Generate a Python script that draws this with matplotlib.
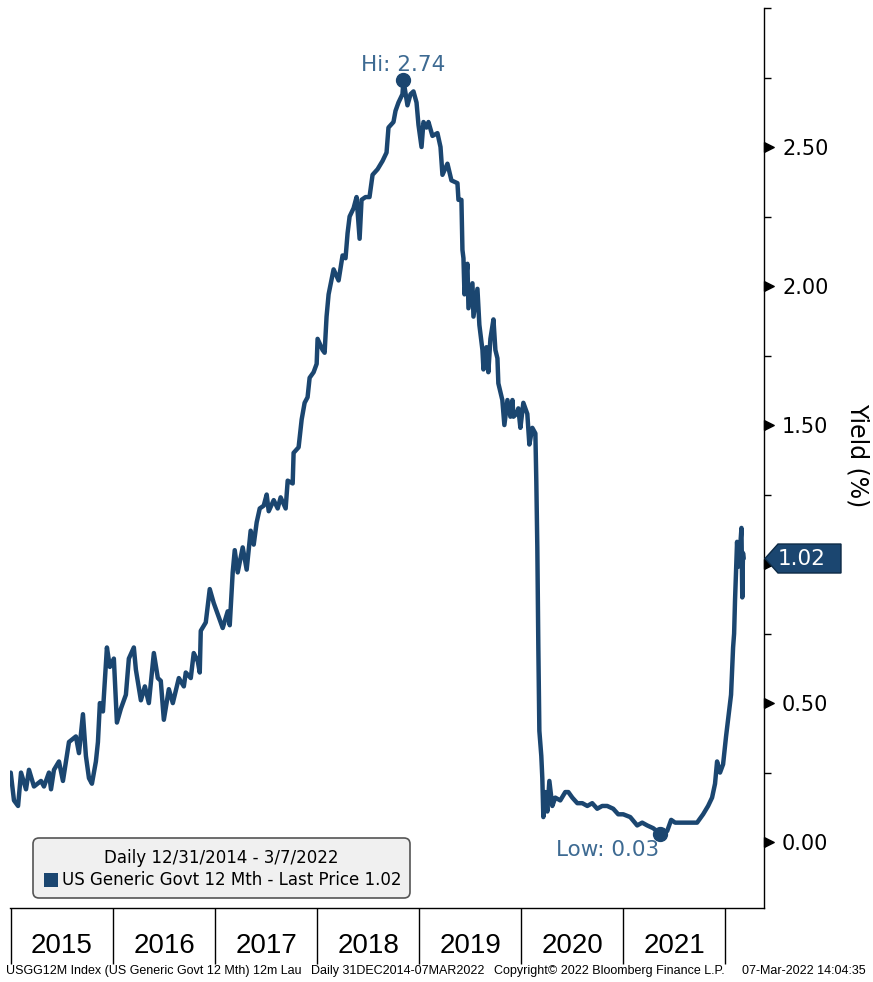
import matplotlib
matplotlib.use('Agg')
import matplotlib.pyplot as plt
from matplotlib import font_manager as fm
from matplotlib.patches import Polygon, FancyBboxPatch, Rectangle
from matplotlib.transforms import IdentityTransform, blended_transform_factory

# ---------------- data (decimal years, yield %) ----------------
dates = [
    2014.997, 2015.010, 2015.029, 2015.069, 2015.098, 2015.147, 2015.176, 2015.225, 2015.294, 2015.323,
    2015.372, 2015.392, 2015.421, 2015.470, 2015.509, 2015.538, 2015.568, 2015.636, 2015.666, 2015.705,
    2015.734, 2015.764, 2015.793, 2015.832, 2015.852, 2015.871, 2015.901, 2015.920, 2015.940, 2015.969,
    2016.008, 2016.038, 2016.077, 2016.126, 2016.155, 2016.204, 2016.224, 2016.273, 2016.312, 2016.351,
    2016.400, 2016.439, 2016.468, 2016.498, 2016.547, 2016.586, 2016.645, 2016.694, 2016.713, 2016.762,
    2016.791, 2016.831, 2016.850, 2016.860, 2016.909, 2016.948, 2016.987, 2017.026, 2017.075, 2017.124,
    2017.144, 2017.173, 2017.193, 2017.222, 2017.271, 2017.310, 2017.349, 2017.379, 2017.408, 2017.438,
    2017.477, 2017.506, 2017.526, 2017.575, 2017.614, 2017.643, 2017.692, 2017.712, 2017.761, 2017.770,
    2017.819, 2017.849, 2017.878, 2017.907, 2017.927, 2017.966, 2017.996, 2018.005, 2018.054, 2018.074,
    2018.093, 2018.113, 2018.162, 2018.211, 2018.250, 2018.279, 2018.299, 2018.319, 2018.358, 2018.387,
    2018.417, 2018.436, 2018.475, 2018.514, 2018.544, 2018.593, 2018.642, 2018.681, 2018.700, 2018.749,
    2018.769, 2018.798, 2018.837, 2018.847, 2018.886, 2018.916, 2018.945, 2018.975, 2018.994, 2019.024,
    2019.043, 2019.073, 2019.092, 2019.131, 2019.180, 2019.210, 2019.229, 2019.278, 2019.317, 2019.376,
    2019.386, 2019.415, 2019.425, 2019.435, 2019.445, 2019.474, 2019.484, 2019.523, 2019.533, 2019.572,
    2019.591, 2019.621, 2019.631, 2019.660, 2019.679, 2019.699, 2019.729, 2019.748, 2019.768, 2019.777,
    2019.816, 2019.836, 2019.866, 2019.895, 2019.915, 2019.925, 2019.954, 2019.973, 2019.993, 2020.022,
    2020.061, 2020.081, 2020.110, 2020.140, 2020.149, 2020.159, 2020.169, 2020.179, 2020.198, 2020.208,
    2020.218, 2020.237, 2020.257, 2020.277, 2020.306, 2020.335, 2020.384, 2020.433, 2020.463, 2020.502,
    2020.551, 2020.600, 2020.649, 2020.697, 2020.746, 2020.795, 2020.844, 2020.903, 2020.952, 2021.001,
    2021.070, 2021.138, 2021.187, 2021.236, 2021.295, 2021.363, 2021.432, 2021.471, 2021.510, 2021.588,
    2021.657, 2021.725, 2021.784, 2021.833, 2021.872, 2021.901, 2021.921, 2021.950, 2021.980, 2022.009,
    2022.029, 2022.058, 2022.078, 2022.088, 2022.097, 2022.117, 2022.127, 2022.147, 2022.160, 2022.168,
    2022.175, 2022.181,
]
yields = [
    0.25, 0.21, 0.15, 0.13, 0.25, 0.19, 0.26, 0.20, 0.22, 0.20,
    0.25, 0.19, 0.26, 0.29, 0.22, 0.29, 0.36, 0.38, 0.32, 0.46,
    0.31, 0.23, 0.21, 0.29, 0.36, 0.50, 0.47, 0.58, 0.70, 0.63,
    0.66, 0.43, 0.48, 0.53, 0.66, 0.70, 0.62, 0.51, 0.56, 0.50,
    0.68, 0.59, 0.58, 0.44, 0.55, 0.50, 0.59, 0.56, 0.61, 0.59,
    0.68, 0.65, 0.61, 0.76, 0.79, 0.91, 0.86, 0.82, 0.77, 0.83,
    0.78, 0.97, 1.05, 0.97, 1.06, 0.98, 1.12, 1.07, 1.15, 1.20,
    1.21, 1.25, 1.19, 1.23, 1.20, 1.24, 1.20, 1.30, 1.29, 1.40,
    1.42, 1.52, 1.58, 1.60, 1.67, 1.69, 1.72, 1.81, 1.77, 1.76,
    1.89, 1.97, 2.06, 2.02, 2.11, 2.10, 2.19, 2.25, 2.28, 2.32,
    2.17, 2.31, 2.32, 2.32, 2.40, 2.42, 2.45, 2.48, 2.57, 2.59,
    2.63, 2.66, 2.69, 2.74, 2.65, 2.69, 2.70, 2.66, 2.58, 2.50,
    2.59, 2.57, 2.59, 2.54, 2.55, 2.50, 2.40, 2.44, 2.38, 2.37,
    2.31, 2.31, 2.13, 2.10, 1.97, 2.08, 1.92, 2.01, 1.89, 1.99,
    1.86, 1.77, 1.70, 1.78, 1.69, 1.81, 1.88, 1.77, 1.74, 1.65,
    1.59, 1.50, 1.59, 1.53, 1.59, 1.53, 1.54, 1.56, 1.49, 1.58,
    1.54, 1.43, 1.49, 1.47, 1.30, 1.06, 0.70, 0.40, 0.31, 0.23,
    0.09, 0.18, 0.11, 0.22, 0.13, 0.16, 0.15, 0.18, 0.18, 0.16,
    0.14, 0.14, 0.13, 0.14, 0.12, 0.13, 0.13, 0.12, 0.10, 0.10,
    0.09, 0.06, 0.07, 0.06, 0.05, 0.03, 0.04, 0.08, 0.07, 0.07,
    0.07, 0.07, 0.10, 0.13, 0.16, 0.21, 0.29, 0.25, 0.28, 0.38,
    0.44, 0.53, 0.70, 0.75, 0.87, 1.08, 0.99, 1.06, 1.13, 0.88,
    1.04, 1.02,
]
year_edges = [2015, 2016, 2017, 2018, 2019, 2020, 2021, 2022]
year_labels = ['2015', '2016', '2017', '2018', '2019', '2020', '2021']
ytick_vals = [0.0, 0.5, 1.0, 1.5, 2.0, 2.5]
ytick_labels = ['0.00', '0.50', '', '1.50', '2.00', '2.50']   # 1.00 hidden by last-price tag
yminor_vals = [0.25, 0.75, 1.25, 1.75, 2.25, 2.75, 3.0]
hi_date, hi_val, hi_text = 2018.847, 2.74, 'Hi: 2.74'
low_date, low_val, low_text = 2021.363, 0.03, 'Low: 0.03'
last_val, last_text = 1.02, '1.02'
legend_title = 'Daily 12/31/2014 - 3/7/2022'
legend_label = 'US Generic Govt 12 Mth - Last Price 1.02'
footer_texts = ['USGG12M Index (US Generic Govt 12 Mth) 12m Lau',
                'Daily 31DEC2014-07MAR2022',
                'Copyright\u00a9 2022 Bloomberg Finance L.P.',
                '07-Mar-2022 14:04:35']
footer_x = [6, 311, 494, 742]

# ---------------- style ----------------
LINE = '#1b4670'
ANNOT = '#3d6a92'
names = {f.name for f in fm.fontManager.ttflist}
if 'Liberation Sans Narrow' in names:
    NARROW, YEAR_FS, FOOT_FS = 'Liberation Sans Narrow', 20.5, 10
else:
    NARROW, YEAR_FS, FOOT_FS = 'Liberation Sans', 20, 9.0
plt.rcParams['font.family'] = ['DejaVu Sans']

W, H = 873, 982
fig = plt.figure(figsize=(W / 100, H / 100), dpi=100)
ax = fig.add_axes([10 / W, 1 - 908 / H, 754 / W, 900 / H])

ax.plot(dates, yields, color=LINE, lw=3.2, solid_joinstyle='round', solid_capstyle='round')
ax.plot([hi_date], [hi_val], 'o', ms=10, color=LINE)
ax.plot([low_date], [low_val], 'o', ms=10, color=LINE)
ax.text(hi_date, hi_val + 0.055, hi_text, ha='center', va='center', fontsize=15.5, color=ANNOT)
ax.text(2020.844, low_val - 0.06, low_text, ha='center', va='center', fontsize=15.5, color=ANNOT)

ax.set_xlim(2014.99, 2022.381)
ax.set_ylim(-0.237, 3.0)

for s in ['left', 'top']:
    ax.spines[s].set_visible(False)
for s in ['right', 'bottom']:
    ax.spines[s].set_linewidth(1.0)
    ax.spines[s].set_color('black')

# x axis: long separators at year edges, labels centred in each year
ax.set_xticks(year_edges)
ax.set_xticklabels([])
ax.set_xticks([y + 0.5 for y in year_edges[:-1]], minor=True)
ax.set_xticklabels(year_labels, minor=True, fontsize=YEAR_FS, family=NARROW)
ax.tick_params(axis='x', which='major', length=40, width=1, direction='out', color='black')
ax.tick_params(axis='x', which='minor', length=0, pad=18)

# y axis on the right
ax.yaxis.tick_right()
ax.set_yticks(ytick_vals)
ax.set_yticklabels(ytick_labels, fontsize=15)
ax.set_yticks(yminor_vals, minor=True)
ax.tick_params(axis='y', which='major', length=0, pad=13)
ax.tick_params(axis='y', which='minor', length=5, width=1, direction='out', color='black')
btr = blended_transform_factory(ax.transAxes, ax.transData)
tri = [(0, -0.5), (1, 0), (0, 0.5), (0, -0.5)]
ax.plot([1.0] * len(ytick_vals), ytick_vals, ls='none', marker=tri, ms=14, color='black',
        transform=btr, clip_on=False)

fig.text(858 / W, 1 - 455 / H, 'Yield (%)', rotation=270, ha='center', va='center', fontsize=17)

# last price tag
fig.canvas.draw()
px, py = btr.transform((1.0, last_val))
tag = Polygon([(px + 1, py), (px + 14, py + 14.5), (px + 77, py + 14.5),
               (px + 77, py - 14.5), (px + 14, py - 14.5)], closed=True,
              facecolor=LINE, edgecolor='#0d2a45', lw=1, transform=IdentityTransform())
fig.add_artist(tag)
fig.text(px + 38, py, last_text, transform=IdentityTransform(), ha='center', va='center',
         fontsize=15.5, color='white')

# legend box
box = FancyBboxPatch((33, H - 898), 377, 60, boxstyle='round,pad=0,rounding_size=6',
                     facecolor='#f0f0f0', edgecolor='#555555', lw=1.2,
                     transform=IdentityTransform())
fig.add_artist(box)
fig.text(221 / W, 1 - 858 / H, legend_title, ha='center', va='center', fontsize=12)
fig.add_artist(Rectangle((44, H - 887), 14, 14, facecolor=LINE, edgecolor='none',
                         transform=IdentityTransform()))
fig.text(62 / W, 1 - 880 / H, legend_label, ha='left', va='center', fontsize=12)

# footer
for t, x in zip(footer_texts, footer_x):
    fig.text(x / W, 1 - 971 / H, t, ha='left', va='center', fontsize=FOOT_FS, family=NARROW)

fig.savefig('out.png', dpi=100)
